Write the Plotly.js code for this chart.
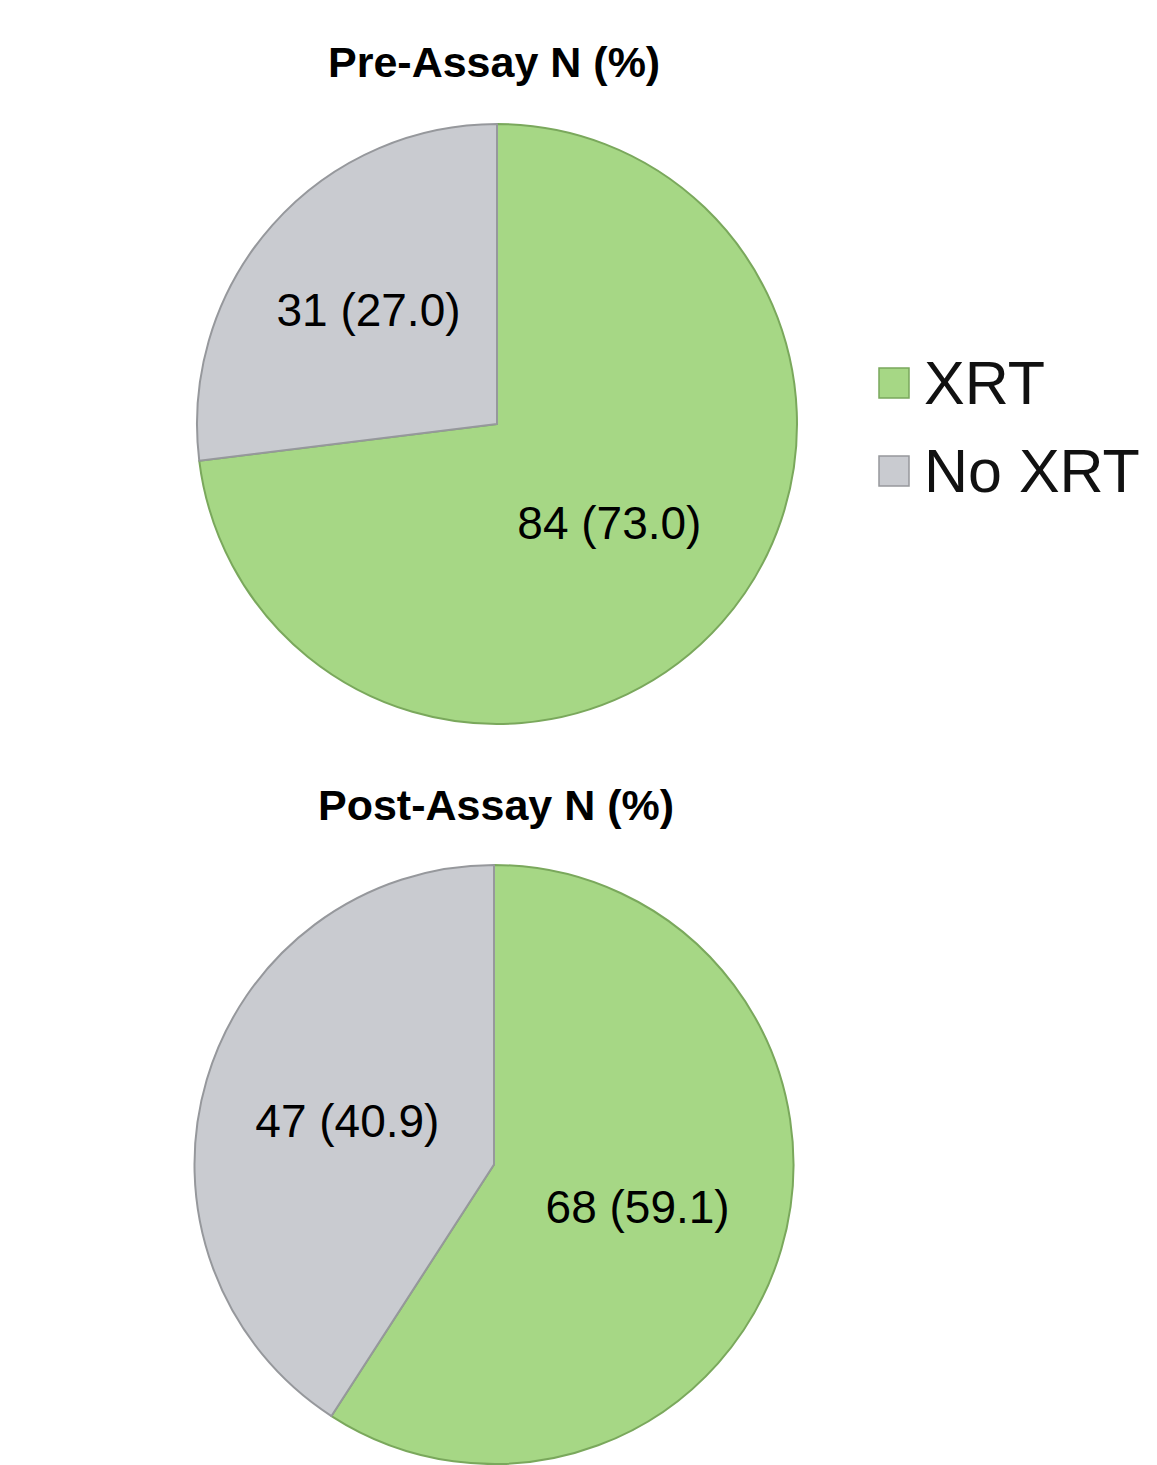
<!DOCTYPE html>
<html>
<head>
<meta charset="utf-8">
<script src="https://cdn.plot.ly/plotly-3.0.1.min.js"></script>
<style>html,body{margin:0;padding:0;background:#fff;}#chart{width:1157px;height:1465px;}</style>
</head>
<body>
<div id="chart"></div>
<script>
const categories = ["XRT", "No XRT"];
const preCounts = [84, 31];
const prePercents = ["73.0", "27.0"];
const postCounts = [68, 47];
const postPercents = ["59.1", "40.9"];
const chartTitles = ["Pre-Assay N (%)", "Post-Assay N (%)"];
const sliceColors = ["#a6d785", "#c9cbd0"];
const edgeColors = ["#7aa85c", "#96989c"];

function makePie(counts, percents, domain) {
  return {
    type: "pie",
    labels: categories,
    values: counts,
    text: counts.map((c, i) => c + " (" + percents[i] + ")"),
    textinfo: "text",
    textposition: "inside",
    insidetextorientation: "horizontal",
    textfont: {family: "Liberation Sans, Arial, sans-serif", size: 46, color: "#000"},
    sort: false,
    direction: "clockwise",
    rotation: 0,
    hoverinfo: "label+value",
    marker: {colors: sliceColors, line: {color: edgeColors, width: 2}},
    domain: domain,
    showlegend: false
  };
}

const data = [
  makePie(preCounts, prePercents, {x: [197/1157, 797/1157], y: [1 - 724/1465, 1 - 124/1465]}),
  makePie(postCounts, postPercents, {x: [194/1157, 794/1157], y: [1 - 1464/1465, 1 - 865/1465]})
];

// custom legend (larger symbols than Plotly's built-in legend allows)
const legendX = 879, legendSym = 30, legendRows = [383, 471];
const shapes = categories.map((c, i) => ({
  type: "rect", xref: "paper", yref: "paper",
  x0: legendX / 1157, x1: (legendX + legendSym) / 1157,
  y0: 1 - (legendRows[i] + legendSym / 2) / 1465, y1: 1 - (legendRows[i] - legendSym / 2) / 1465,
  fillcolor: sliceColors[i], line: {color: edgeColors[i], width: 1.5}
}));
const legendAnn = categories.map((c, i) => ({
  text: c, xref: "paper", yref: "paper", x: 922 / 1157, y: 1 - legendRows[i] / 1465,
  xanchor: "left", yanchor: "middle", showarrow: false,
  font: {size: 61, color: "#111"}
}));

const layout = {
  width: 1157,
  height: 1465,
  margin: {l: 0, r: 0, t: 0, b: 0},
  paper_bgcolor: "#ffffff",
  font: {family: "Liberation Sans, Arial, sans-serif", color: "#000"},
  showlegend: false,
  shapes: shapes,
  annotations: [
    {text: "<b>" + chartTitles[0] + "</b>", x: 494/1157, y: 1 - 62/1465, xref: "paper", yref: "paper",
     showarrow: false, font: {size: 43, color: "#000"}, xanchor: "center", yanchor: "middle"},
    {text: "<b>" + chartTitles[1] + "</b>", x: 496/1157, y: 1 - 805/1465, xref: "paper", yref: "paper",
     showarrow: false, font: {size: 43, color: "#000"}, xanchor: "center", yanchor: "middle"}
  ].concat(legendAnn)
};

Plotly.newPlot("chart", data, layout, {displayModeBar: false, staticPlot: true});
</script>
</body>
</html>
